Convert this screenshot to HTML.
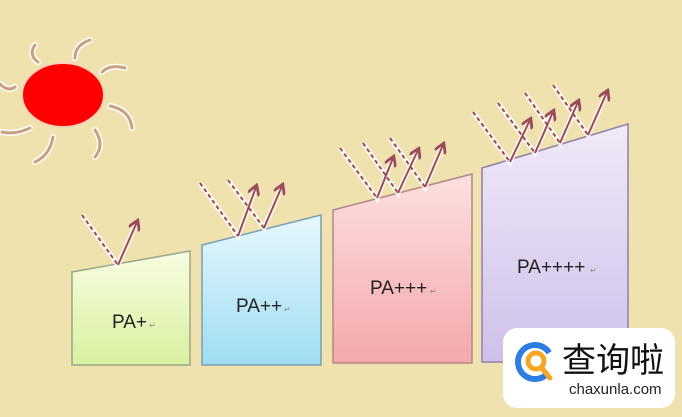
<!DOCTYPE html>
<html><head><meta charset="utf-8"><style>
body{margin:0;width:682px;height:417px;overflow:hidden;background:#efe2ae;}
svg{display:block}
text{font-family:"Liberation Sans",sans-serif}
</style></head><body>
<svg width="682" height="417" viewBox="0 0 682 417">
<defs>
<linearGradient id="g1" x1="0" y1="0" x2="0" y2="1"><stop offset="0" stop-color="#f8fde0"/><stop offset="1" stop-color="#d8f0a0"/></linearGradient>
<linearGradient id="g2" x1="0" y1="0" x2="0" y2="1"><stop offset="0" stop-color="#e6f8fd"/><stop offset="1" stop-color="#9fdcf2"/></linearGradient>
<linearGradient id="g3" x1="0" y1="0" x2="0" y2="1"><stop offset="0" stop-color="#fde0e0"/><stop offset="1" stop-color="#f4a8ac"/></linearGradient>
<linearGradient id="g4" x1="0" y1="0" x2="0" y2="1"><stop offset="0" stop-color="#f0eaf8"/><stop offset="1" stop-color="#cfc0ea"/></linearGradient>
<marker id="ah" markerWidth="6" markerHeight="6" refX="4" refY="3" orient="auto"><path d="M0,0 L5,3 L0,6" fill="none" stroke="#9a4a5a" stroke-width="1.4"/></marker>
</defs>
<g stroke="#fff" stroke-width="6" fill="none" stroke-linecap="round">
<path d="M35,45 Q28,55 38,62 M75,58 Q75,45 90,40 M102,72 Q110,64 125,68 M110,106 Q130,110 132,128 M95,130 Q105,145 95,157 M53,137 Q50,155 35,162 M30,128 Q15,135 2,132 M15,87 Q8,92 0,84"/>
</g>
<g stroke="#c9a080" stroke-width="3" fill="none" stroke-linecap="round">
<path d="M35,45 Q28,55 38,62 M75,58 Q75,45 90,40 M102,72 Q110,64 125,68 M110,106 Q130,110 132,128 M95,130 Q105,145 95,157 M53,137 Q50,155 35,162 M30,128 Q15,135 2,132 M15,87 Q8,92 0,84"/>
</g>
<ellipse cx="63" cy="95" rx="41" ry="32" fill="#f00" stroke="#fbd0b8" stroke-width="2"/>
<polygon points="72,272 190,251 190,365 72,365" fill="url(#g1)" stroke="#9aa88a" stroke-width="1.5"/>
<polygon points="202,245 321,215 321,365 202,365" fill="url(#g2)" stroke="#7aa0b0" stroke-width="1.5"/>
<polygon points="333,210 472,174 472,363 333,363" fill="url(#g3)" stroke="#b08888" stroke-width="1.5"/>
<polygon points="482,168 628,124 628,362 482,362" fill="url(#g4)" stroke="#9080a8" stroke-width="1.5"/>
<text x="112" y="328" font-size="19" fill="#222">PA+</text><text x="149" y="328" font-size="8" fill="#888">↵</text>
<text x="236" y="312" font-size="19" fill="#222">PA++</text><text x="284" y="312" font-size="8" fill="#888">↵</text>
<text x="370" y="294" font-size="19" fill="#222">PA+++</text><text x="430" y="294" font-size="8" fill="#888">↵</text>
<text x="517" y="273" font-size="19" fill="#222">PA++++</text><text x="590" y="273" font-size="8" fill="#888">↵</text>
<g stroke="#fff" stroke-width="5" fill="none" opacity="0.8">
<path d="M82,215L118,265L137,222 M200,183L238,236L256,187 M228,180L264,228L282,186 M340,148L377,198L393,158 M363,143L398,193L418,150 M390,138L425,187L443,145 M473,112L510,162L530,120 M498,103L535,153L553,112 M525,93L560,143L578,102 M553,85L588,135L607,92"/>
</g>
<g stroke="#9a4a5a" stroke-width="2" fill="none" stroke-dasharray="4,3">
<path d="M82,215L118,265 M200,183L238,236 M228,180L264,228 M340,148L377,198 M363,143L398,193 M390,138L425,187 M473,112L510,162 M498,103L535,153 M525,93L560,143 M553,85L588,135"/>
</g>
<g stroke="#9a4a5a" stroke-width="2" fill="none" marker-end="url(#ah)">
<line x1="118" y1="265" x2="137" y2="222"/>
<line x1="238" y1="236" x2="256" y2="187"/>
<line x1="264" y1="228" x2="282" y2="186"/>
<line x1="377" y1="198" x2="393" y2="158"/>
<line x1="398" y1="193" x2="418" y2="150"/>
<line x1="425" y1="187" x2="443" y2="145"/>
<line x1="510" y1="162" x2="530" y2="120"/>
<line x1="535" y1="153" x2="553" y2="112"/>
<line x1="560" y1="143" x2="578" y2="102"/>
<line x1="588" y1="135" x2="607" y2="92"/>
</g>
<rect x="503" y="328" width="172" height="80" rx="14" fill="#fff"/>
<circle cx="535" cy="362" r="17" fill="none" stroke="#2f7de1" stroke-width="6" stroke-dasharray="85 22" transform="rotate(40 535 362)"/>
<circle cx="536" cy="361" r="8" fill="none" stroke="#f5a623" stroke-width="5"/>
<line x1="541" y1="367" x2="550" y2="378" stroke="#f5a623" stroke-width="5" stroke-linecap="round"/>
<text x="562" y="372" font-size="34" fill="#111" font-family="'Noto Serif CJK SC',serif">查询啦</text>
<text x="569" y="394" font-size="15" fill="#222">chaxunla.com</text>
</svg>
</body></html>
